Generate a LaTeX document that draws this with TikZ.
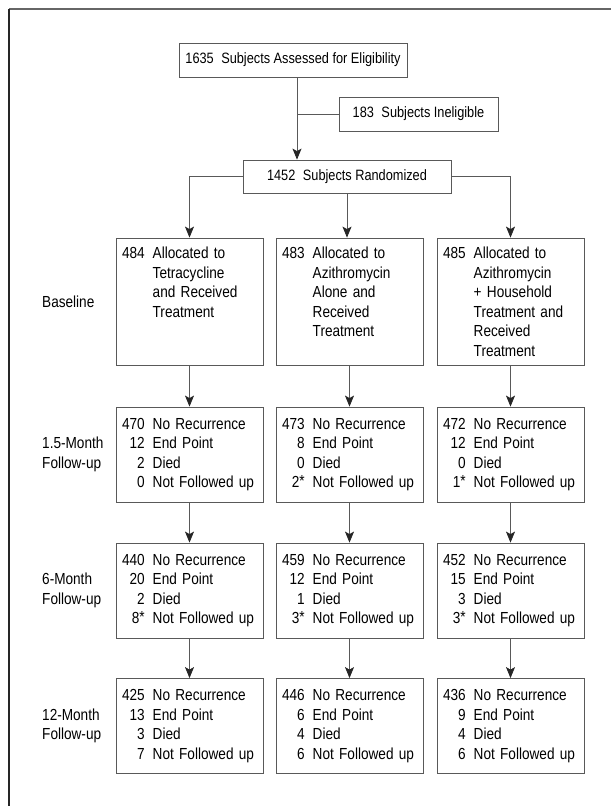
\documentclass[tikz,border=0pt]{standalone}
\usepackage{fontspec}
\setmainfont[FakeStretch=0.85]{Liberation Sans}
\usetikzlibrary{arrows.meta, positioning}

\newcommand{\lostmark}{\raisebox{1.5pt}{*}}
\newcommand{\outcome}[4]{%
  \begin{tabular}{@{}r@{\hspace{8pt}}l@{}}
    #1 & No Recurrence\\
    #2 & End Point\\
    #3 & Died\\
    #4 & Not Followed up
  \end{tabular}}
\newcommand{\arm}[2]{%
  \begin{minipage}[c][115pt][t]{135pt}
    \vspace*{1pt}%
    \begin{tabular}{@{}r@{\hspace{8pt}}l@{}}
      #1 & #2
    \end{tabular}
  \end{minipage}}

\begin{document}
\begin{tikzpicture}[
    x=1pt, y=-1pt,
    font=\fontsize{16}{19.5}\selectfont,
    box/.style={rectangle, draw=black!65, line width=0.8pt, inner sep=6pt},
    headbox/.style={box, minimum height=34pt, inner sep=0pt, font=\fontsize{15}{17}\selectfont},
    armbox/.style={box, text width=135pt, align=left},
    fubox/.style={armbox, minimum height=95pt},
    rowlabel/.style={anchor=west, inner sep=0pt, align=left},
    link/.style={draw=black!65, line width=0.8pt},
    arrow/.style={link, -{Stealth[length=11pt, width=9pt, inset=2.5pt, color=black!85]}},
]

% ---- Layout ----
\def\xa{189.5}
\def\xb{349.5}
\def\xc{510.5}
\def\ybase{301.5}
\def\yone{454.5}
\def\ysix{590.5}
\def\ytwelve{726}

\useasboundingbox (0,0) rectangle (611,806);

% ---- Frame ----
\coordinate (corner) at (9,9);
\draw[black!60, line width=2pt] (corner) -- (611,9);
\draw[black!85, line width=1.4pt] (corner) -- (9,806);

% ---- Enrolment ----
\node[headbox, minimum width=228pt] (assess) at (293,60) {1635\enspace Subjects Assessed for Eligibility};
\node[headbox, minimum width=159pt] (inelig) at (418.5,114) {183\enspace Subjects Ineligible};
\node[headbox, minimum width=208pt, minimum height=33pt] (rand) at (347,176.5) {1452\enspace Subjects Randomized};

\coordinate (trunk) at ([xshift=4pt]assess.south);
\draw[arrow] (trunk) -- (trunk |- rand.north);
\draw[link] (trunk |- inelig.west) -- (inelig.west);

% ---- Baseline arms ----
\node[armbox] (r0a) at (\xa,\ybase) {\arm{484}{Allocated to\\ & Tetracycline\\ & and Received\\ & Treatment}};
\node[armbox] (r0b) at (\xb,\ybase) {\arm{483}{Allocated to\\ & Azithromycin\\ & Alone and\\ & Received\\ & Treatment}};
\node[armbox] (r0c) at (\xc,\ybase) {\arm{485}{Allocated to\\ & Azithromycin\\ & + Household\\ & Treatment and\\ & Received\\ & Treatment}};

\draw[arrow] (rand.west) -| (r0a.north);
\draw[arrow] (rand.south) -- (rand.south |- r0b.north);
\draw[arrow] (rand.east) -| (r0c.north);

% ---- Follow-up boxes ----
\foreach \name/\x/\y/\n/\e/\d/\f in {
    r1a/\xa/\yone/470/12/2/0,
    r1b/\xb/\yone/473/8/0/{2\lostmark},
    r1c/\xc/\yone/472/12/0/{1\lostmark},
    r2a/\xa/\ysix/440/20/2/{8\lostmark},
    r2b/\xb/\ysix/459/12/1/{3\lostmark},
    r2c/\xc/\ysix/452/15/3/{3\lostmark},
    r3a/\xa/\ytwelve/425/13/3/7,
    r3b/\xb/\ytwelve/446/6/4/6,
    r3c/\xc/\ytwelve/436/9/4/6} {
    \node[fubox] (\name) at (\x,\y) {\outcome{\n}{\e}{\d}{\f}};
}

\foreach \c in {a,b,c} {
    \draw[arrow] (r0\c.south) -- (r1\c.north);
    \draw[arrow] (r1\c.south) -- (r2\c.north);
    \draw[arrow] (r2\c.south) -- (r3\c.north);
}

% ---- Row labels ----
\node[rowlabel] (lbase) at (42,\ybase) {Baseline};
\node[rowlabel] (lone) at (42,\yone) {1.5-Month\\Follow-up};
\node[rowlabel] (lsix) at (42,\ysix) {6-Month\\Follow-up};
\node[rowlabel] (ltwelve) at (42,\ytwelve) {12-Month\\Follow-up};

\end{tikzpicture}
\end{document}
